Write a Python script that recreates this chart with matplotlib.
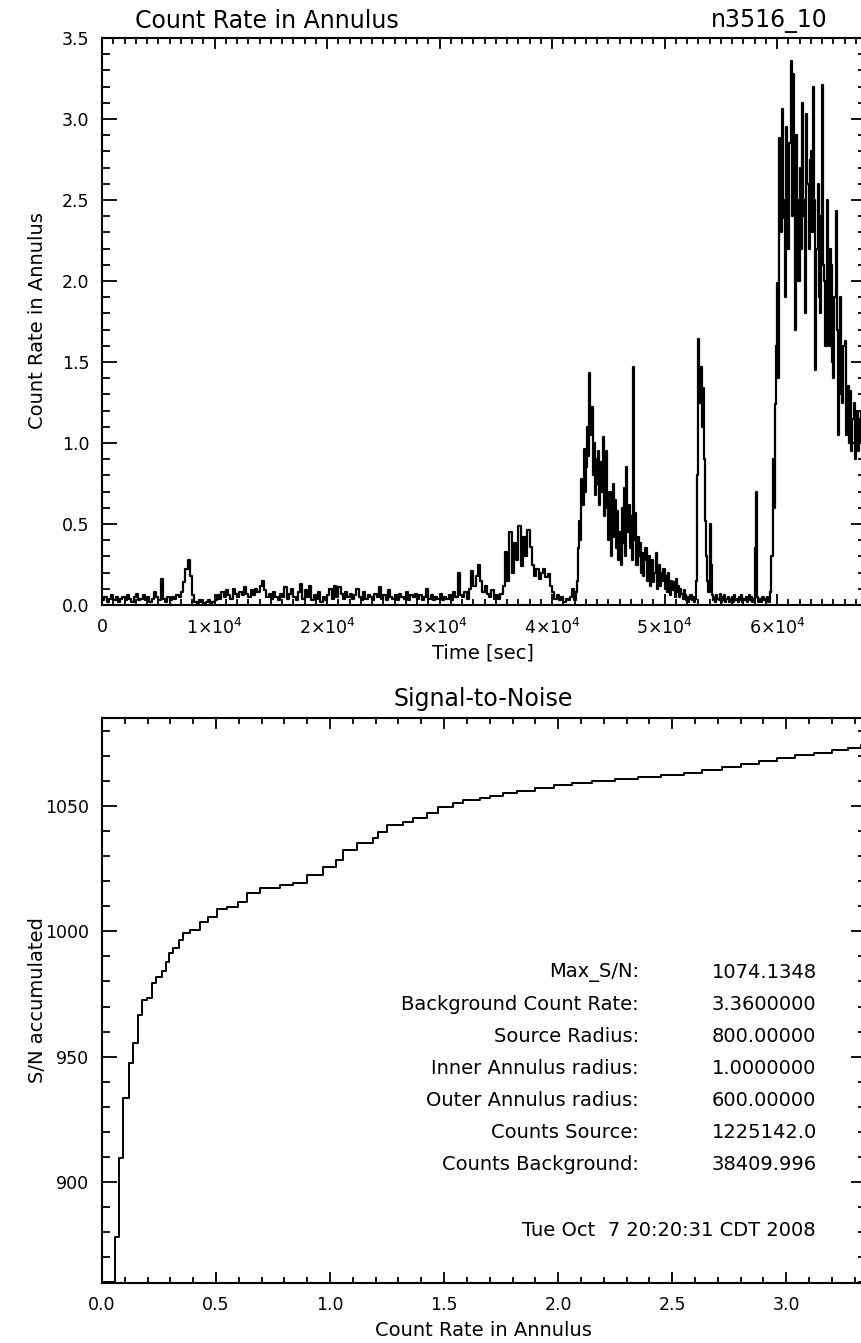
import numpy as np
import matplotlib
matplotlib.use("Agg")
import matplotlib.pyplot as plt
from matplotlib.ticker import MultipleLocator, FuncFormatter

# ---------------------------------------------------------------- data
# quiet part of the light curve: 200 s bins, 0 - 42 ks
QUIET_BIN = 200.0
rate_quiet = [
    0.03, 0.05, 0.02, 0.04, 0.06, 0.03, 0.05, 0.02, 0.04, 0.05,
    0.03, 0.06, 0.04, 0.02, 0.05, 0.07, 0.03, 0.04, 0.06, 0.03,
    0.05, 0.02, 0.04, 0.08, 0.05, 0.03, 0.16, 0.04, 0.02, 0.05,
    0.03, 0.05, 0.04, 0.06, 0.05, 0.08, 0.14, 0.22, 0.28, 0.18,
    0.06, 0.02, 0.01, 0.03, 0.02, 0.01, 0.02, 0.03, 0.01, 0.02,
    0.03, 0.06, 0.04, 0.08, 0.05, 0.09, 0.06, 0.04, 0.10, 0.07,
    0.05, 0.08, 0.06, 0.11, 0.07, 0.05, 0.09, 0.06, 0.10, 0.08,
    0.12, 0.15, 0.09, 0.05, 0.07, 0.04, 0.08, 0.05, 0.03, 0.07,
    0.05, 0.11, 0.04, 0.07, 0.10, 0.05, 0.03, 0.08, 0.13, 0.04,
    0.09, 0.05, 0.12, 0.03, 0.06, 0.04, 0.08, 0.02, 0.05, 0.03,
    0.06, 0.10, 0.04, 0.12, 0.05, 0.11, 0.07, 0.04, 0.08, 0.05,
    0.07, 0.04, 0.06, 0.10, 0.05, 0.03, 0.08, 0.04, 0.06, 0.05,
    0.03, 0.07, 0.05, 0.11, 0.04, 0.06, 0.03, 0.09, 0.05, 0.04,
    0.06, 0.03, 0.07, 0.05, 0.04, 0.08, 0.03, 0.06, 0.05, 0.07,
    0.04, 0.06, 0.03, 0.05, 0.10, 0.04, 0.06, 0.03, 0.05, 0.04,
    0.07, 0.03, 0.05, 0.04, 0.06, 0.03, 0.08, 0.05, 0.20, 0.06,
    0.05, 0.08, 0.04, 0.10, 0.21, 0.12, 0.18, 0.25, 0.15, 0.08,
    0.12, 0.07, 0.05, 0.09, 0.04, 0.06, 0.04, 0.07, 0.12, 0.33,
    0.15, 0.45, 0.20, 0.38, 0.28, 0.49, 0.24, 0.42, 0.30, 0.46,
    0.36, 0.25, 0.18, 0.22, 0.16, 0.20, 0.22, 0.17, 0.19, 0.12,
    0.08, 0.04, 0.06, 0.03, 0.05, 0.02, 0.04, 0.03, 0.05, 0.10,
]

# flaring part of the light curve: 100 s bins, 42 ks onwards
FLARE_START = 42000.0
FLARE_BIN = 100.0
rate_flare = [
    0.03, 0.08, 0.15, 0.35, 0.52, 0.40, 0.78, 0.62, 0.96, 0.70,
    0.85, 1.10, 0.92, 1.43, 1.05, 1.22, 0.80, 1.00, 0.68, 0.90,
    0.75, 0.95, 0.62, 0.88, 0.70, 1.04, 0.55, 0.82, 0.95, 0.60,
    0.40, 0.70, 0.30, 0.55, 0.75, 0.42, 0.65, 0.35, 0.58, 0.28,
    0.45, 0.25, 0.60, 0.38, 0.72, 0.30, 0.85, 0.45, 0.62, 0.35,
    0.55, 0.28, 1.47, 0.40, 0.57, 0.25, 0.42, 0.30, 0.38, 0.20,
    0.32, 0.18, 0.28, 0.35, 0.15, 0.25, 0.30, 0.12, 0.22, 0.28,
    0.14, 0.20, 0.32, 0.10, 0.18, 0.25, 0.12, 0.20, 0.15, 0.22,
    0.10, 0.18, 0.08, 0.20, 0.12, 0.06, 0.15, 0.09, 0.14, 0.05,
    0.16, 0.08, 0.12, 0.05, 0.10, 0.07, 0.04, 0.09, 0.06, 0.03,
    0.05, 0.02, 0.04, 0.06, 0.03, 0.05, 0.02, 0.04, 0.15, 0.80,
    1.64, 1.25, 1.47, 1.10, 1.34, 0.90, 0.52, 0.30, 0.15, 0.08,
    0.50, 0.25, 0.06, 0.03, 0.05, 0.02, 0.06, 0.04, 0.03, 0.07,
    0.02, 0.05, 0.03, 0.06, 0.02, 0.04, 0.05, 0.02, 0.04, 0.03,
    0.05, 0.02, 0.06, 0.03, 0.04, 0.02, 0.05, 0.03, 0.06, 0.02,
    0.04, 0.03, 0.05, 0.02, 0.04, 0.06, 0.03, 0.05, 0.02, 0.04,
    0.35, 0.70, 0.05, 0.02, 0.04, 0.03, 0.02, 0.05, 0.03, 0.04,
    0.02, 0.05, 0.03, 0.02, 0.08, 0.30, 0.90, 0.60, 1.24, 1.60,
    1.99, 1.40, 2.88, 2.30, 3.06, 2.50, 2.39, 1.90, 2.95, 2.60,
    2.20, 2.85, 3.36, 2.40, 3.28, 2.70, 1.70, 2.90, 2.50, 2.00,
    2.70, 2.20, 3.10, 2.50, 2.40, 1.80, 3.03, 2.60, 2.20, 2.75,
    2.80, 2.30, 3.20, 2.50, 1.45, 2.20, 2.60, 1.90, 1.80, 2.40,
    3.21, 2.10, 2.00, 1.60, 2.50, 1.90, 1.60, 2.20, 2.10, 1.50,
    1.40, 1.90, 2.43, 1.70, 1.05, 1.60, 1.90, 1.30, 1.25, 1.60,
    1.63, 1.05, 1.20, 1.35, 1.00, 1.32, 0.95, 1.15, 1.25, 0.90,
    1.10, 1.20, 0.95, 1.15, 1.00, 1.20, 0.88, 1.05, 1.10,
]

time_sec = np.concatenate([
    np.arange(len(rate_quiet)) * QUIET_BIN + QUIET_BIN / 2.0,
    FLARE_START + np.arange(len(rate_flare)) * FLARE_BIN + FLARE_BIN / 2.0,
])
rate = np.concatenate([rate_quiet, rate_flare])

# accumulated signal-to-noise versus count-rate cut (step curve)
cut_rate = [
    0.000, 0.057, 0.076, 0.091, 0.120, 0.134, 0.159, 0.174, 0.196, 0.218,
    0.237, 0.262, 0.280, 0.295, 0.313, 0.339, 0.356, 0.386, 0.429, 0.466,
    0.503, 0.546, 0.597, 0.634, 0.692, 0.780, 0.838, 0.897, 0.970, 1.028,
    1.057, 1.116, 1.189, 1.211, 1.248, 1.320, 1.364, 1.423, 1.474, 1.539,
    1.583, 1.656, 1.700, 1.760, 1.820, 1.900, 1.980, 2.060, 2.150, 2.250,
    2.350, 2.450, 2.550, 2.630, 2.720, 2.800, 2.880, 2.960, 3.040, 3.120,
    3.200, 3.270, 3.330, 3.360,
]
sn_accum = [
    860.0, 878.2, 909.4, 933.4, 947.3, 955.3, 966.6, 972.6, 973.3, 979.3,
    981.9, 984.0, 987.9, 991.3, 993.2, 996.5, 999.2, 1000.5, 1003.8, 1005.8,
    1008.8, 1009.8, 1011.8, 1015.2, 1017.2, 1018.5, 1019.2, 1022.5, 1025.8, 1028.4,
    1032.4, 1035.1, 1037.1, 1039.7, 1042.4, 1043.7, 1045.1, 1047.1, 1049.7, 1051.1,
    1052.4, 1053.1, 1053.8, 1055.0, 1056.0, 1057.3, 1058.4, 1059.2, 1060.0, 1060.8,
    1061.5, 1062.2, 1063.2, 1064.2, 1065.5, 1066.6, 1067.8, 1069.0, 1070.2, 1071.3,
    1072.3, 1073.2, 1074.1348, 1074.1348,
]

info_labels = [
    "Max_S/N:", "Background Count Rate:", "Source Radius:",
    "Inner Annulus radius:", "Outer Annulus radius:",
    "Counts Source:", "Counts Background:",
]
info_values = [
    "1074.1348", "3.3600000", "800.00000", "1.0000000",
    "600.00000", "1225142.0", "38409.996",
]
stamp = "Tue Oct  7 20:20:31 CDT 2008"
obs_name = "n3516_10"

# ---------------------------------------------------------------- layout
W, H = 862, 1343
plt.rcParams["font.family"] = ["DejaVu Sans"]
fig = plt.figure(figsize=(W / 100, H / 100), dpi=100)
fig.patch.set_facecolor("white")


def box(left, top, right, bottom):
    return [left / W, 1 - bottom / H, (right - left) / W, (bottom - top) / H]


def put(x, y, s, size, ha="center", va="center", rot=0):
    fig.text(x / W, 1 - y / H, s, fontsize=size, ha=ha, va=va,
             rotation=rot, color="black")


def idl_frame(ax, xmaj, xmin, ymaj, ymin):
    ax.xaxis.set_major_locator(MultipleLocator(xmaj))
    ax.xaxis.set_minor_locator(MultipleLocator(xmin))
    ax.yaxis.set_major_locator(MultipleLocator(ymaj))
    ax.yaxis.set_minor_locator(MultipleLocator(ymin))
    ax.tick_params(which="both", direction="in", top=True, right=True,
                   width=1.3, colors="black", labelsize=12.5)
    ax.tick_params(axis="x", which="major", length=8, pad=9)
    ax.tick_params(axis="x", which="minor", length=4)
    ax.tick_params(axis="y", which="major", length=11, pad=9)
    ax.tick_params(axis="y", which="minor", length=5.5)
    for sp in ax.spines.values():
        sp.set_linewidth(1.5)


# ------------------------------------------------------------ light curve
ax1 = fig.add_axes(box(102, 38, 866, 605))
ax1.plot(time_sec, rate, drawstyle="steps-mid", color="black", lw=1.6)
ax1.set_xlim(0, 67900)
ax1.set_ylim(0, 3.5)
idl_frame(ax1, 10000, 1000, 0.5, 0.1)


def sci_fmt(v, _):
    n = int(round(v / 1e4))
    return "0" if n == 0 else r"%d$\times$10$^{4}$" % n


ax1.xaxis.set_major_formatter(FuncFormatter(sci_fmt))
ax1.yaxis.set_major_formatter(FuncFormatter(lambda v, _: "%.1f" % v))

put(135, 21, "Count Rate in Annulus", 17, ha="left")
put(828, 21, obs_name, 17, ha="right")
put(483, 653, "Time [sec]", 14)
put(38, 321, "Count Rate in Annulus", 14, rot=90)

# ------------------------------------------------------ signal to noise
ax2 = fig.add_axes(box(102, 718, 866, 1283))
ax2.step(cut_rate, sn_accum, where="post", color="black", lw=1.4)
ax2.set_xlim(0, 3.35)
ax2.set_ylim(859.7, 1085.1)
idl_frame(ax2, 0.5, 0.1, 50, 10)
ax2.xaxis.set_major_formatter(FuncFormatter(lambda v, _: "%.1f" % v))
ax2.yaxis.set_major_formatter(FuncFormatter(lambda v, _: "%d" % round(v)))

put(483, 699, "Signal-to-Noise", 17)
put(483, 1331, "Count Rate in Annulus", 14)
put(38, 1000, "S/N accumulated", 14, rot=90)

row_y = [972, 1004, 1036, 1068, 1100, 1133, 1165]
for y, lab, val in zip(row_y, info_labels, info_values):
    put(639, y, lab, 14, ha="right")
    put(712, y, val, 14, ha="left")
put(816, 1230, stamp, 14, ha="right")

fig.savefig("out.png", dpi=100, facecolor="white")
